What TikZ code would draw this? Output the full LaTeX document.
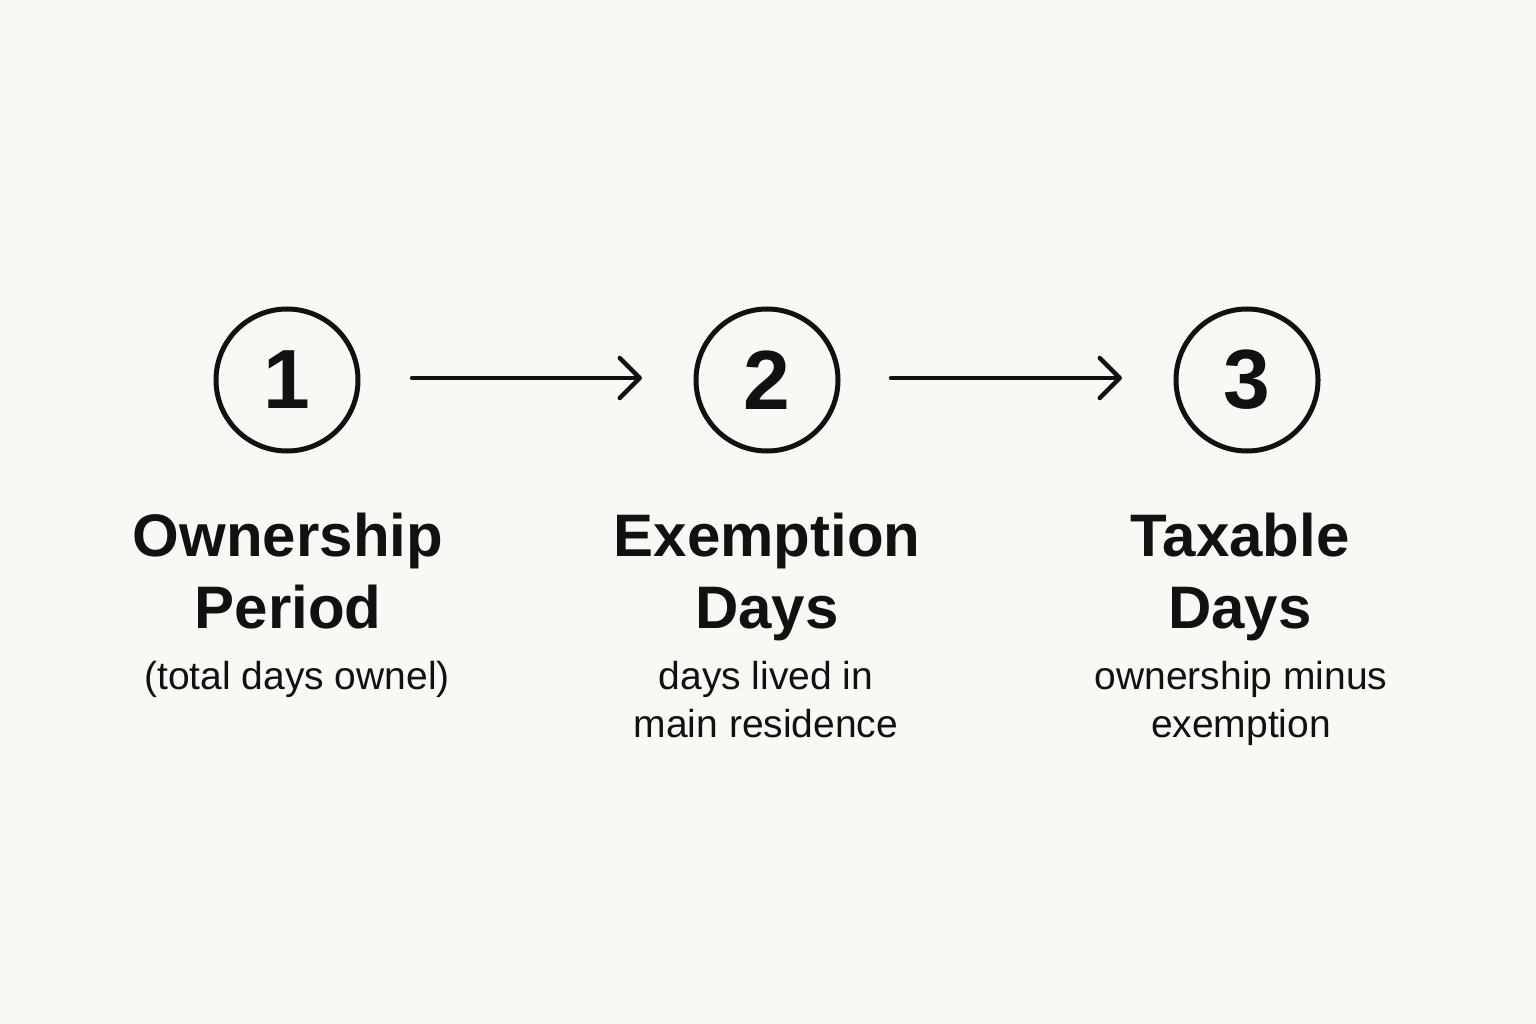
\documentclass[tikz,border=0pt]{standalone}
\usepackage{fontspec}
\setmainfont{Liberation Sans}
\usetikzlibrary{arrows.meta}
\definecolor{bgc}{HTML}{F9F8F4}
\definecolor{ink}{HTML}{111111}
\begin{document}
\begin{tikzpicture}[x=1pt,y=-1pt,
  stepcircle/.style={circle,draw=ink,line width=5pt,minimum size=142pt,inner sep=0pt,
    font=\fontsize{84}{84}\selectfont\bfseries,text=ink},
  titletext/.style={anchor=base,align=center,text=ink,inner sep=0pt,
    font=\fontsize{60}{72}\selectfont\bfseries},
  subtext/.style={anchor=base,align=center,text=ink,inner sep=0pt,
    font=\fontsize{39}{48}\selectfont},
  flow/.style={draw=ink,line width=4.5pt,line cap=round,
    -{Straight Barb[length=20pt,width=40pt,line width=4.5pt,line cap=round,round]}}]
\fill[bgc] (0,0) rectangle (1536,1024);
\useasboundingbox (0,0) rectangle (1536,1024);
\node[stepcircle] (c1) at (287,380) {1};
\node[stepcircle] (c2) at (767,380) {2};
\node[stepcircle] (c3) at (1247,380) {3};
\coordinate (a1s) at (412,378); \coordinate (a1e) at (642,378);
\coordinate (a2s) at (891,378); \coordinate (a2e) at (1122,378);
\draw[flow] (a1s) -- (a1e);
\draw[flow] (a2s) -- (a2e);
% base anchor of multi-line nodes = baseline of last line
\node[titletext] (t1) at (288,628) {Ownership\\Period};
\node[titletext] (t2) at (767,628) {Exemption\\Days};
\node[titletext] (t3) at (1240,628) {Taxable\\Days};
\node[subtext] (s1) at (297,689) {(total days ownel)};
\node[subtext] (s2) at (766,737) {days lived in\\main residence};
\node[subtext] (s3) at (1241,737) {ownership minus\\exemption};
\end{tikzpicture}
\end{document}
